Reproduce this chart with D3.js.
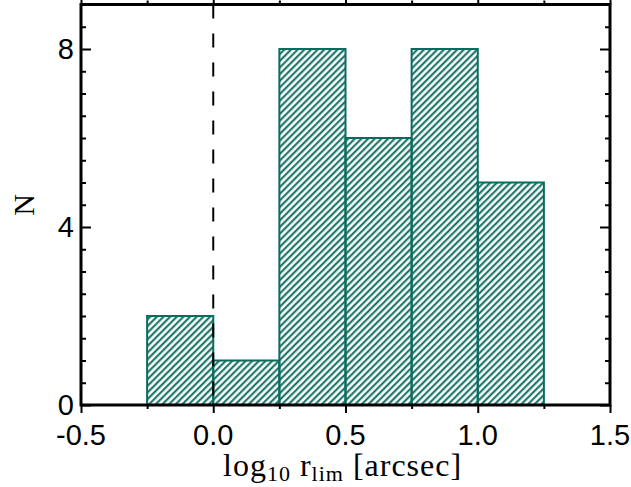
<!DOCTYPE html>
<html>
<head>
<meta charset="utf-8">
<script src="https://cdn.jsdelivr.net/npm/d3@7"></script>
<style>
  body { margin: 0; background: #fff; }
  svg { display: block; }
</style>
</head>
<body>
<svg id="chart" width="631" height="487"></svg>
<script>
// Histogram of log10 r_lim (bin edges and counts)
const binEdges = [-0.25, 0.0, 0.25, 0.5, 0.75, 1.0, 1.25];
const counts = [2, 1, 8, 6, 8, 5];
const xTickValues = [-0.5, 0.0, 0.5, 1.0, 1.5];
const xTickLabels = ["-0.5", "0.0", "0.5", "1.0", "1.5"];
const yTickValues = [0, 4, 8];
const yTickLabels = ["0", "4", "8"];
const markerValue = [0.0];

const plot = { left: 81, right: 610, top: 4.5, bottom: 405 };
const teal = "#0a6b5e";

const svg = d3.select("#chart");

const x = d3.scaleLinear().domain([-0.5, 1.5]).range([plot.left, plot.right]);
const y = d3.scaleLinear().domain([0, 9]).range([plot.bottom, plot.top]);

// diagonal hatch fill
const defs = svg.append("defs");
const pat = defs.append("pattern")
  .attr("id", "hatch")
  .attr("patternUnits", "userSpaceOnUse")
  .attr("width", 4.7).attr("height", 4.7)
  .attr("patternTransform", "rotate(45)");
pat.append("line")
  .attr("x1", 1.2).attr("y1", 0).attr("x2", 1.2).attr("y2", 4.7)
  .attr("stroke", teal).attr("stroke-width", 2);

const bins = counts.map((c, i) => ({ x0: binEdges[i], x1: binEdges[i + 1], n: c }));

svg.append("g").selectAll("rect")
  .data(bins)
  .join("rect")
  .attr("x", d => x(d.x0))
  .attr("y", d => y(d.n))
  .attr("width", d => x(d.x1) - x(d.x0))
  .attr("height", d => y(0) - y(d.n))
  .attr("fill", "url(#hatch)")
  .attr("stroke", teal)
  .attr("stroke-width", 2);

// dashed reference line
svg.append("g").selectAll("line")
  .data(markerValue)
  .join("line")
  .attr("x1", d => x(d)).attr("x2", d => x(d))
  .attr("y1", plot.top).attr("y2", plot.bottom)
  .attr("stroke", "#000").attr("stroke-width", 2)
  .attr("stroke-dasharray", "14,15");

// axes with major and minor ticks on all four sides
function ticks(axisGen, transform) {
  const g = svg.append("g").attr("transform", transform).call(axisGen);
  g.select(".domain").remove();
  g.selectAll("line").attr("stroke", "#000").attr("stroke-width", 2);
  g.selectAll("text").remove();
  return g;
}
const xMinor = d3.range(-0.5, 1.5001, 0.25).filter(v => Math.abs(v * 2 - Math.round(v * 2)) > 1e-6);
const yMinor = d3.range(0, 9.0001, 0.5).filter(v => Math.abs(v / 4 - Math.round(v / 4)) > 1e-6);

ticks(d3.axisTop(x).tickValues(xTickValues).tickSizeInner(-8).tickSizeOuter(0), `translate(0,${plot.bottom})`);
ticks(d3.axisTop(x).tickValues(xMinor).tickSizeInner(-4).tickSizeOuter(0), `translate(0,${plot.bottom})`);
ticks(d3.axisBottom(x).tickValues(xTickValues).tickSizeInner(-8).tickSizeOuter(0), `translate(0,${plot.top})`);
ticks(d3.axisBottom(x).tickValues(xMinor).tickSizeInner(-4).tickSizeOuter(0), `translate(0,${plot.top})`);
ticks(d3.axisLeft(y).tickValues(yTickValues).tickSizeInner(-10).tickSizeOuter(0), `translate(${plot.left},0)`);
ticks(d3.axisLeft(y).tickValues(yMinor).tickSizeInner(-5).tickSizeOuter(0), `translate(${plot.left},0)`);
ticks(d3.axisRight(y).tickValues(yTickValues).tickSizeInner(-10).tickSizeOuter(0), `translate(${plot.right},0)`);
ticks(d3.axisRight(y).tickValues(yMinor).tickSizeInner(-5).tickSizeOuter(0), `translate(${plot.right},0)`);

// frame
svg.append("rect")
  .attr("x", plot.left).attr("y", plot.top)
  .attr("width", plot.right - plot.left).attr("height", plot.bottom - plot.top)
  .attr("fill", "none").attr("stroke", "#000").attr("stroke-width", 3);

// tick labels
const labelFont = "'Liberation Sans', Arial, sans-serif";
svg.append("g").selectAll("text")
  .data(xTickValues)
  .join("text")
  .attr("x", d => x(d))
  .attr("y", 445)
  .attr("text-anchor", "middle")
  .attr("font-family", labelFont)
  .attr("font-size", 29)
  .text((d, i) => xTickLabels[i]);

svg.append("g").selectAll("text")
  .data(yTickValues)
  .join("text")
  .attr("x", 74)
  .attr("y", d => y(d) + 10)
  .attr("text-anchor", "end")
  .attr("font-family", labelFont)
  .attr("font-size", 29)
  .text((d, i) => yTickLabels[i]);

// axis titles
const serif = "'Liberation Serif', 'Times New Roman', serif";
const xt = svg.append("text")
  .attr("x", 223)
  .attr("y", 476)
  .attr("text-anchor", "start")
  .attr("font-family", serif)
  .attr("font-size", 32)
  .attr("letter-spacing", 1);
xt.append("tspan").text("log");
xt.append("tspan").attr("font-size", 22).attr("dy", 5).text("10");
xt.append("tspan").attr("dy", -5).text(" r");
xt.append("tspan").attr("font-size", 22).attr("dy", 5).text("lim");
xt.append("tspan").attr("dy", -5).text(" [arcsec]");

svg.append("text")
  .attr("transform", `translate(34,205) rotate(-90)`)
  .attr("text-anchor", "middle")
  .attr("font-family", serif)
  .attr("font-size", 30)
  .text("N");
</script>
</body>
</html>
